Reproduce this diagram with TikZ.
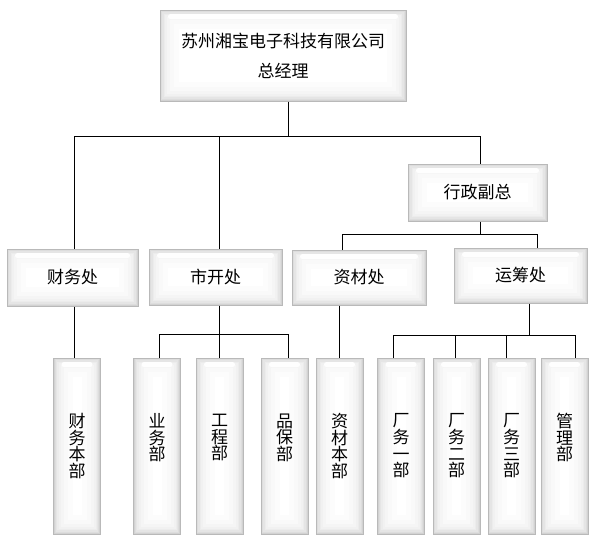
\documentclass[tikz,border=0pt]{standalone}
\usepackage{fontspec}
\setmainfont{Noto Sans CJK SC}
\tikzset{
  box/.style={draw=gray!55, line width=1pt, fill=gray!35,
    path picture={
      \foreach \d/\c in {1.2/27,2.4/20,3.6/15,5/11,7/8,10/5,14/2.5,19/0}
        \fill[gray!\c] ([xshift=\d pt,yshift=-\d pt]path picture bounding box.north west)
          rectangle ([xshift=-\d pt,yshift=\d pt]path picture bounding box.south east);
      \fill[white, opacity=.95, rounded corners=2.5pt]
        ([xshift=8pt,yshift=-4pt]path picture bounding box.north west) rectangle
        ([xshift=-8pt,yshift=-9pt]path picture bounding box.north east);}},
  head/.style={box, minimum width=246pt, minimum height=91pt, align=center,
    font=\fontsize{17}{30}\selectfont},
  office/.style={box, minimum width=133pt, minimum height=56pt,
    font=\fontsize{17}{20}\selectfont},
  dept/.style={box, minimum width=47pt, minimum height=176pt, align=center,
    inner sep=0pt, font=\fontsize{17}{16.7}\selectfont},
}
\begin{document}
\begin{tikzpicture}[x=1pt,y=-1pt]
  \useasboundingbox (0,0) rectangle (600,555);
  \draw
    (283,55.5) node[head] (gm){苏州湘宝电子科技有限公司\\总经理}
    (477.5,192.5) node[office, minimum width=139pt, minimum height=57pt] (vp){行政副总}
    (72.5,277.5) node[office, minimum width=131pt, minimum height=57pt] (fin){财务处}
    (215.5,277) node[office] (mkt){市开处}
    (359,277.5) node[office, minimum width=134pt, minimum height=55pt] (mat){资材处}
    (520.5,275.5) node[office, minimum height=55pt] (ops){运筹处}
    (77,446) node[dept] (finA){财\\务\\本\\部}
    (157,446) node[dept] (biz){业\\务\\部\\\phantom{部}}
    (219.5,446) node[dept] (eng){工\\程\\部\\\phantom{部}}
    (284.5,446) node[dept] (qa){品\\保\\部\\\phantom{部}}
    (339.5,446) node[dept] (matA){资\\材\\本\\部}
    (401,446) node[dept] (f1){厂\\务\\一\\部}
    (456.5,446) node[dept] (f2){厂\\务\\二\\部}
    (511.5,446) node[dept] (f3){厂\\务\\三\\部}
    (564.5,446) node[dept] (mg){管\\理\\部\\\phantom{部}};
  % junctions
  \coordinate (jTop) at (288,136);
  \coordinate (jFin) at (74,136);
  \coordinate (jMkt) at (219,136);
  \coordinate (jVp) at (480,136);
  \coordinate (jVpB) at (480,234);
  \coordinate (jMat) at (342,234);
  \coordinate (jOps) at (537,234);
  \coordinate (jMktB) at (219,334);
  \coordinate (jBiz) at (159,334);
  \coordinate (jQa) at (288,334);
  \coordinate (jOpsB) at (529,335);
  \coordinate (jF1) at (393,335);
  \coordinate (jF2) at (455,335);
  \coordinate (jF3) at (506,335);
  \coordinate (jMg) at (575,335);
  \begin{scope}[-, line width=0.8pt]
    \draw (gm.south -| jTop) to (jTop);
    \draw (jFin) to (jVp);
    \draw (jFin) to (fin.north -| jFin);
    \draw (jMkt) to (mkt.north -| jMkt);
    \draw (jVp) to (vp.north -| jVp);
    \draw (vp.south -| jVpB) to (jVpB);
    \draw (jMat) to (jOps);
    \draw (jMat) to (mat.north -| jMat);
    \draw (jOps) to (ops.north -| jOps);
    \draw (fin.south -| jFin) to (finA.north -| jFin);
    \draw (mkt.south -| jMktB) to (jMktB);
    \draw (jBiz) to (jQa);
    \draw (jBiz) to (biz.north -| jBiz);
    \draw (jMktB) to (eng.north -| jMktB);
    \draw (jQa) to (qa.north -| jQa);
    \draw (mat.south -| matA.north) to (matA.north);
    \draw (ops.south -| jOpsB) to (jOpsB);
    \draw (jF1) to (jMg);
    \draw (jF1) to (f1.north -| jF1);
    \draw (jF2) to (f2.north -| jF2);
    \draw (jF3) to (f3.north -| jF3);
    \draw (jMg) to (mg.north -| jMg);
  \end{scope}
\end{tikzpicture}
\end{document}
